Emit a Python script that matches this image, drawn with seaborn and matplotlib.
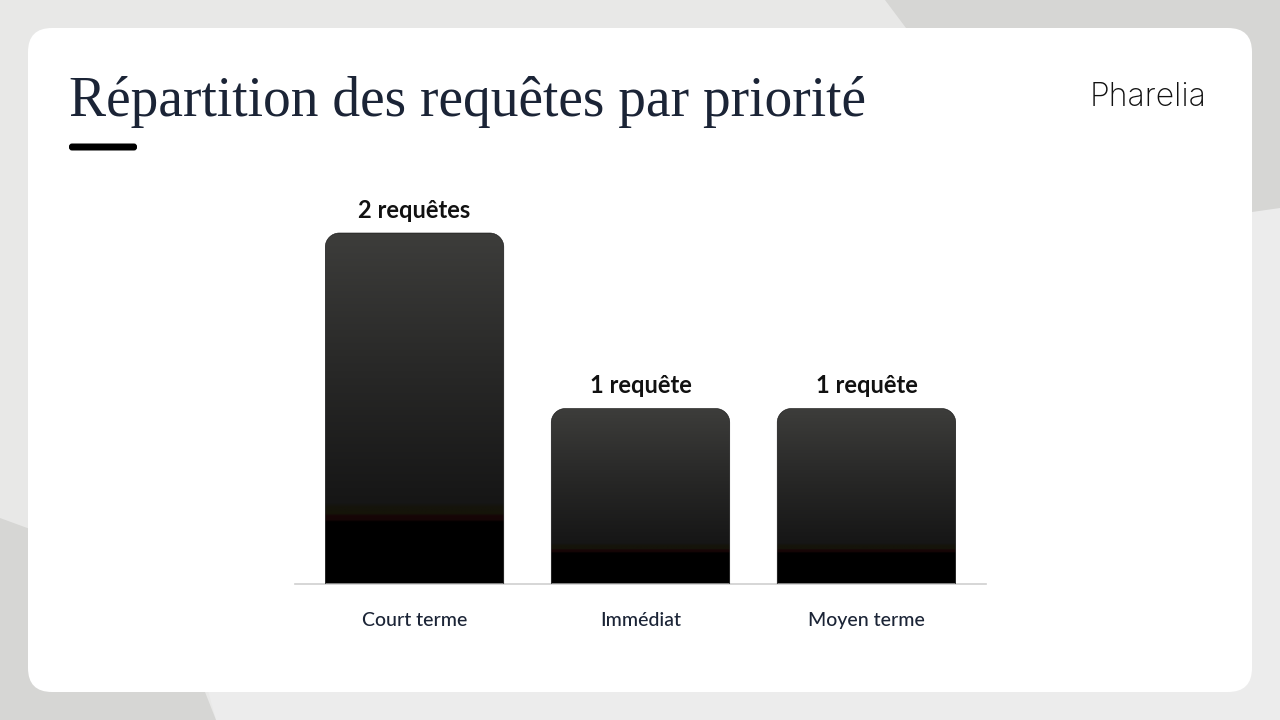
import numpy as np
import pandas as pd
import matplotlib
matplotlib.use("Agg")
import matplotlib.pyplot as plt
from matplotlib.patches import FancyBboxPatch, Polygon, PathPatch
from matplotlib.colors import LinearSegmentedColormap
from matplotlib.path import Path
import seaborn as sns

categories = ["Court terme", "Immédiat", "Moyen terme"]
values = [2, 1, 1]
value_labels = ["2 requêtes", "1 requête", "1 requête"]
title = "Répartition des requêtes par priorité"
brand = "Pharelia"

W, H = 1280, 720
sns.set_theme(style="white")
plt.rcParams["font.family"] = ["Lato", "DejaVu Sans"]
fig = plt.figure(figsize=(W / 100, H / 100), dpi=100, facecolor="#e8e8e7")

bg = fig.add_axes([0, 0, 1, 1], zorder=0)
bg.set_xlim(0, W); bg.set_ylim(H, 0); bg.axis("off")
bg.add_patch(Polygon([(1000, 212), (1280, 208), (1280, 720), (216, 720), (205, 680)], closed=True, fc="#ececec", ec="none"))
bg.add_patch(Polygon([(885, 0), (1280, 0), (1280, 208), (1252, 212), (1100, 230), (930, 60)], closed=True, fc="#d6d6d4", ec="none"))
bg.add_patch(Polygon([(0, 518), (60, 540), (170, 640), (205, 692), (216, 720), (0, 720)], closed=True, fc="#d6d6d4", ec="none"))
bg.add_patch(FancyBboxPatch((28 + 24, 28 + 24), 1224 - 48, 664 - 48, boxstyle="round,pad=24,rounding_size=24",
                            fc="white", ec="none"))
bg.text(69, 116, title, family="Liberation Serif", fontsize=40, color="#1b2436", va="baseline", ha="left")
bg.add_patch(FancyBboxPatch((72, 146.5), 62, 1, boxstyle="round,pad=3,rounding_size=3", fc="black", ec="none"))
bg.text(1148.5, 105.5, brand, family="Inter", fontweight="light", fontsize=23, color="#111111", va="baseline", ha="center")

ax = fig.add_axes([295 / W, 1 - 584 / H, (986 - 295) / W, (584 - 160) / H], zorder=1)
ax.patch.set_alpha(0)
df = pd.DataFrame({"cat": categories, "val": values})
sns.barplot(data=df, x="cat", y="val", ax=ax, width=0.79, color="black", saturation=1)
ax.set_xlim(-0.529, 2.529)
ax.set_ylim(0, 2 * (584 - 160) / (584 - 233))
ax.set_xlabel(""); ax.set_ylabel("")
ax.set_yticks([])
ax.tick_params(axis="x", length=0, pad=20)
plt.setp(ax.get_xticklabels(), fontsize=14, color="#1b2436", fontweight="medium")
for s in ["top", "left", "right"]:
    ax.spines[s].set_visible(False)
ax.spines["bottom"].set_color("#cfcfcf")
ax.spines["bottom"].set_linewidth(1.2)

# vertical shading with the faint olive and maroon banding before the step to black
cmap = LinearSegmentedColormap.from_list(
    "g", [(0, "#3d3d3b"), (0.35, "#2a2a29"), (0.77, "#161616"), (0.78, "#15140c"), (0.80, "#151409"),
          (0.806, "#170607"), (0.818, "#150506"), (0.823, "#000000"), (1, "#000000")], N=512)
grad = np.linspace(0, 1, 1024)[:, None]
xpx = (ax.get_xlim()[1] - ax.get_xlim()[0]) / (986 - 295)
ypx = ax.get_ylim()[1] / (584 - 160)
for bar, lab in zip(list(ax.patches), value_labels):
    x0, w, h = bar.get_x(), bar.get_width(), bar.get_height()
    bar.set_visible(False)
    im = ax.imshow(grad, extent=(x0, x0 + w, 0, h), aspect="auto", cmap=cmap, vmin=0, vmax=1, origin="upper", zorder=2)
    rx, ry = 14 * xpx, 14 * ypx
    k = 0.45
    verts = [(x0, 0), (x0, h - ry), (x0, h - ry * k), (x0 + rx * k, h), (x0 + rx, h),
             (x0 + w - rx, h), (x0 + w - rx * k, h), (x0 + w, h - ry * k), (x0 + w, h - ry),
             (x0 + w, 0), (x0, 0)]
    codes = [Path.MOVETO, Path.LINETO, Path.CURVE4, Path.CURVE4, Path.CURVE4, Path.LINETO,
             Path.CURVE4, Path.CURVE4, Path.CURVE4, Path.LINETO, Path.CLOSEPOLY]
    outline = Path(verts, codes)
    im.set_clip_path(outline, transform=ax.transData)
    ax.add_patch(PathPatch(outline, fc="none", ec="#111111", lw=0.4, zorder=3))
    ax.annotate(lab, (x0 + w / 2, h), xytext=(0, 8), textcoords="offset points", ha="center", va="bottom",
                fontsize=17, fontweight="bold", color="#111111")
ax.set_xlim(-0.529, 2.529)
ax.set_ylim(0, 2 * (584 - 160) / (584 - 233))
fig.savefig("out.png", dpi=100, facecolor=fig.get_facecolor())
